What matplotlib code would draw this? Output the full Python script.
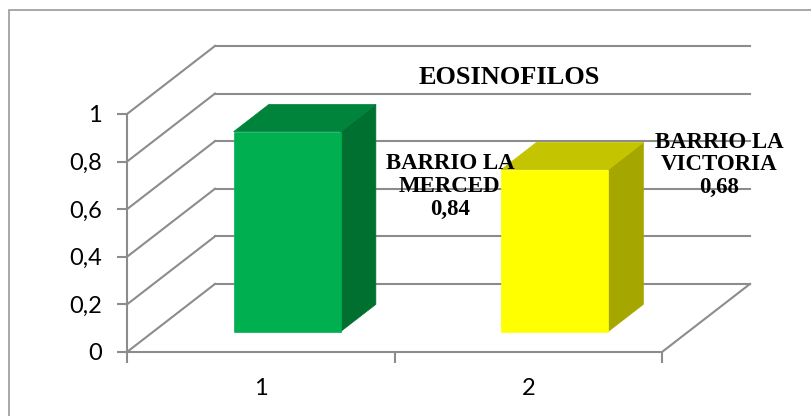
import matplotlib.pyplot as plt
from matplotlib.patches import Polygon, Rectangle

# datos del grafico
categorias = [1, 2]
barrios = ["BARRIO LA\nMERCED", "BARRIO LA\nVICTORIA"]
valores = [0.84, 0.68]
yticks = [0, 0.2, 0.4, 0.6, 0.8, 1.0]
ytick_labels = ["0", "0,2", "0,4", "0,6", "0,8", "1"]

caras = [
    # frente, lado, tapa
    ("#00B050", "#007030", "#00843C"),
    ("#FFFF00", "#A6A600", "#C4C400"),
]
gris = "#8C8C8C"

# desplazamiento de la profundidad (en unidades de datos)
DX = 0.329
DY = 0.286
D0, D1 = 0.3, 0.7  # profundidad de las barras
ANCHO = 0.4


def proy(x, y, d):
    return (x + d * DX, y + d * DY)


fig = plt.figure(figsize=(8.11, 4.16), dpi=100)
fig.patches.append(Rectangle((9 / 811, -0.1), 1.2, 1 - 10 / 416 + 0.1,
                             transform=fig.transFigure, fill=False,
                             edgecolor="#9A9A9A", lw=1.2))

ax = fig.add_axes([127 / 811, 64 / 416, 535 / 811, 238 / 416])
ax.set_xlim(0.5, 2.5)
ax.set_ylim(0, 1)
ax.patch.set_visible(False)
for s in ["top", "right"]:
    ax.spines[s].set_visible(False)
for s in ["left", "bottom"]:
    ax.spines[s].set_color(gris)
    ax.spines[s].set_linewidth(1.5)

# pared del fondo y lineas laterales
for y in yticks:
    xa, ya = proy(0.5, y, 1)
    xb, yb = proy(2.5, y, 1)
    ax.plot([0.5, xa], [y, ya], color=gris, lw=1.5, clip_on=False, zorder=1)
    ax.plot([xa, xb], [ya, yb], color=gris, lw=1.5, clip_on=False, zorder=1)
xa, ya = proy(2.5, 0, 1)
ax.plot([2.5, xa], [0, ya], color=gris, lw=1.5, clip_on=False, zorder=1)

# barras 3d
for c, v, (cf, cl, ct) in zip(categorias, valores, caras):
    x0, x1 = c - ANCHO / 2, c + ANCHO / 2
    lado = [proy(x1, 0, D0), proy(x1, v, D0), proy(x1, v, D1), proy(x1, 0, D1)]
    tapa = [proy(x0, v, D0), proy(x1, v, D0), proy(x1, v, D1), proy(x0, v, D1)]
    frente = [proy(x0, 0, D0), proy(x1, 0, D0), proy(x1, v, D0), proy(x0, v, D0)]
    for pts, col in [(lado, cl), (tapa, ct), (frente, cf)]:
        ax.add_patch(Polygon(pts, closed=True, facecolor=col, edgecolor=col,
                             lw=0.5, clip_on=False, zorder=3))

# etiquetas de datos
pos_etiq = [(1.707, 0.697), (2.713, 0.786)]
for (tx, ty), b, v in zip(pos_etiq, barrios, valores):
    ax.text(tx, ty, b + "\n" + f"{v:.2f}".replace(".", ","), ha="center",
            va="center", family="Liberation Serif", fontweight="bold",
            fontsize=16.5, linespacing=1.12, zorder=5)

ax.text(1.928, 1.155, "EOSINOFILOS", ha="center", va="center",
        family="Liberation Serif", fontweight="bold", fontsize=19, zorder=5)

ax.set_yticks(yticks)
ax.set_yticklabels(ytick_labels, family="Lato", fontsize=17)
ax.tick_params(axis="y", length=7, width=1.5, color=gris, pad=11)
ax.set_xticks([0.5, 1.5, 2.5])
ax.set_xticklabels([])
ax.tick_params(axis="x", which="major", length=8, width=1.5, color=gris)
ax.set_xticks(categorias, minor=True)
ax.set_xticklabels([str(c) for c in categorias], minor=True, family="Lato",
                   fontsize=17)
ax.tick_params(axis="x", which="minor", length=0, pad=19)

fig.savefig("out.png", dpi=100)
